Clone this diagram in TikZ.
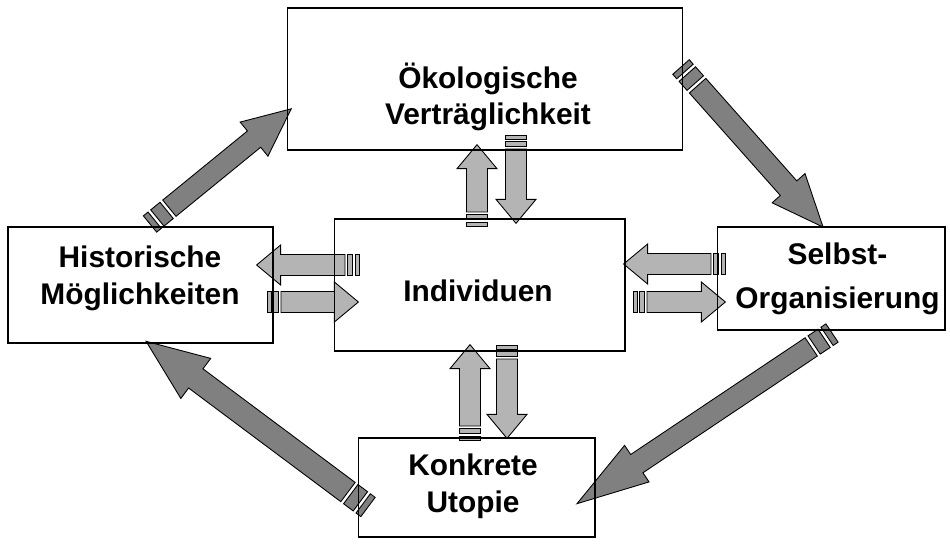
\documentclass[tikz,border=0pt]{standalone}
\usepackage{fontspec}
\setmainfont{Liberation Sans}
\usepackage{tikz}

\definecolor{darkarrow}{RGB}{128,128,128}
\definecolor{lightarrow}{RGB}{180,180,180}

\tikzset{
  box/.style={draw=black, line width=0.6pt, inner sep=0pt},
  lbl/.style={font=\fontsize{17}{#1}\selectfont\bfseries, align=center, inner sep=0pt},
  arrowpart/.style={draw=black, line width=0.5pt, line join=miter}
}

% striped block arrow: fill, shaft half width, head half width, head length,
% thin stripe, gap, thick stripe, tail, tip
\newcommand{\stripedarrow}[9]{%
  \pgfpointdiff{\pgfpointanchor{#8}{center}}{\pgfpointanchor{#9}{center}}%
  \pgfgetlastxy{\arrdx}{\arrdy}%
  \pgfmathsetmacro{\arrlen}{veclen(\arrdx,\arrdy)/0.5669}%
  \pgfmathsetmacro{\arrang}{atan2(\arrdy,\arrdx)}%
  \pgfmathsetmacro{\arrbase}{\arrlen-#4}%
  \pgfmathsetmacro{\stripeb}{#5+#6}%
  \pgfmathsetmacro{\stripec}{#5+#6+#7}%
  \pgfmathsetmacro{\shaftin}{#5+2*#6+#7}%
  \begin{scope}[shift={(#8)}, rotate=\arrang]
    \filldraw[arrowpart, fill=#1] (0,-#2) rectangle (#5,#2);
    \filldraw[arrowpart, fill=#1] (\stripeb,-#2) rectangle (\stripec,#2);
    \filldraw[arrowpart, fill=#1] (\shaftin,-#2) -- (\arrbase,-#2) -- (\arrbase,-#3)
      -- (\arrlen,0) -- (\arrbase,#3) -- (\arrbase,#2) -- (\shaftin,#2) -- cycle;
  \end{scope}}
\newcommand{\bigarrow}[5]{\stripedarrow{darkarrow}{#3}{#4}{#5}{6}{3.5}{12}{#1}{#2}}
\newcommand{\smallarrow}[2]{\stripedarrow{lightarrow}{10.5}{20}{24}{4}{2.5}{5}{#1}{#2}}

\begin{document}
\begin{tikzpicture}[x=0.02cm, y=0.02cm]
  \useasboundingbox (0,0) rectangle (950,545);

  \coordinate (hist-oeko-s) at (150,321);
  \coordinate (hist-oeko-e) at (291,436);
  \coordinate (oeko-selbst-s) at (681,478);
  \coordinate (oeko-selbst-e) at (823,318);
  \coordinate (selbst-utop-s) at (832,212);
  \coordinate (selbst-utop-e) at (578,42);
  \coordinate (utop-hist-s) at (368,38);
  \coordinate (utop-hist-e) at (147,203);

  \coordinate (ind-hist-s) at (359,280);
  \coordinate (ind-hist-e) at (257,280);
  \coordinate (hist-ind-s) at (267,243);
  \coordinate (hist-ind-e) at (358,243);
  \coordinate (selbst-ind-s) at (725,281);
  \coordinate (selbst-ind-e) at (624,281);
  \coordinate (ind-selbst-s) at (633,243);
  \coordinate (ind-selbst-e) at (725,243);
  \coordinate (ind-oeko-s) at (477,319);
  \coordinate (ind-oeko-e) at (477,400);
  \coordinate (oeko-ind-s) at (516,410);
  \coordinate (oeko-ind-e) at (516,322);
  \coordinate (utop-ind-s) at (470,105);
  \coordinate (utop-ind-e) at (470,200);
  \coordinate (ind-utop-s) at (507,200);
  \coordinate (ind-utop-e) at (507,107);

  \bigarrow{hist-oeko-s}{hist-oeko-e}{10.5}{22}{48}
  \bigarrow{oeko-selbst-s}{oeko-selbst-e}{11}{22}{52}
  \bigarrow{selbst-utop-s}{selbst-utop-e}{11}{22}{72}
  \bigarrow{utop-hist-s}{utop-hist-e}{12}{25}{62}

  \smallarrow{ind-hist-s}{ind-hist-e}
  \smallarrow{hist-ind-s}{hist-ind-e}
  \smallarrow{selbst-ind-s}{selbst-ind-e}
  \smallarrow{ind-selbst-s}{ind-selbst-e}
  \smallarrow{ind-oeko-s}{ind-oeko-e}
  \smallarrow{oeko-ind-s}{oeko-ind-e}
  \smallarrow{utop-ind-s}{utop-ind-e}
  \smallarrow{ind-utop-s}{ind-utop-e}

  \node[box, minimum width=7.92cm, minimum height=2.84cm] (oeko) at (485,466) {};
  \node[box, minimum width=5.30cm, minimum height=2.32cm] (hist) at (140.5,260) {};
  \node[box, minimum width=5.82cm, minimum height=2.64cm] (indiv) at (479.5,260) {};
  \node[box, minimum width=4.56cm, minimum height=2.06cm] (selbst) at (831,266.5) {};
  \node[box, minimum width=4.74cm, minimum height=1.98cm] (utop) at (476.5,57.5) {};

  \node[lbl=20.5pt] (oeko-txt) at (488,448.5) {Ökologische\\Verträglichkeit};
  \node[lbl=21pt] (hist-txt) at (140,267) {Historische\\Möglichkeiten};
  \node[lbl=18pt] (indiv-txt) at (478,254) {Individuen};
  \node[lbl=25pt] (selbst-txt) at (837.5,266) {Selbst-\\Organisierung};
  \node[lbl=21pt] (utop-txt) at (473,59) {Konkrete\\Utopie};
\end{tikzpicture}
\end{document}
